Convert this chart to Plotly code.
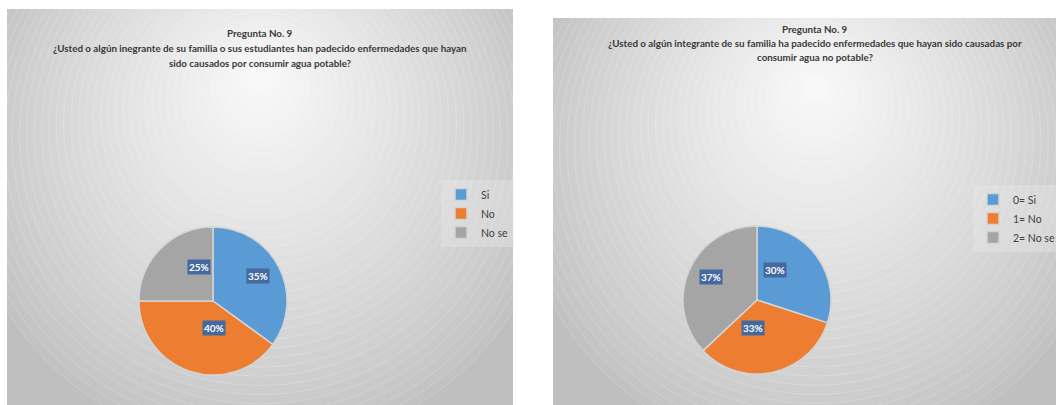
import math
import plotly.graph_objects as go

W, H = 1056, 405

# data
labels_left = ["Si", "No", "No se"]
values_left = [35, 40, 25]
labels_right = ["0= Si", "1= No", "2= No se"]
values_right = [30, 33, 37]

title_left = [
    "Pregunta No. 9",
    "¿Usted o algún inegrante de su familia o sus estudiantes han padecido enfermedades que hayan",
    "sido causados por consumir agua potable?",
]
title_right = [
    "Pregunta No. 9",
    "¿Usted o algún integrante de su familia ha padecido enfermedades que hayan sido causadas por",
    "consumir agua no potable?",
]

colors = ["#5b9bd5", "#ed7d31", "#a5a5a5"]
FONT = "Lato"

# panel geometry in pixels
panels = [
    dict(x0=7, x1=513, y0=9, cx=260, pie=(213, 301), title_y=[33, 48, 63],
         legend=(441, 180)),
    dict(x0=553, x1=1056, y0=18, cx=815, pie=(757, 300), title_y=[29, 43, 57],
         legend=(973, 185)),
]
PIE_D = 148


def px(x):
    return x / W


def py(y):
    return 1 - y / H


fig = go.Figure()
shapes = []
annotations = []

for i, p in enumerate(panels):
    sfx = "" if i == 0 else str(i + 1)
    fig.add_trace(go.Scatter(x=[], y=[], xaxis="x" + sfx, yaxis="y" + sfx,
                             showlegend=False, hoverinfo="skip"))
    fig.update_layout(**{
        "xaxis" + sfx: dict(domain=[px(p["x0"]), px(p["x1"])], range=[p["x0"], p["x1"]],
                            visible=False, fixedrange=True, anchor="y" + sfx),
        "yaxis" + sfx: dict(domain=[0, py(p["y0"])], range=[H, p["y0"]],
                            visible=False, fixedrange=True, anchor="x" + sfx),
    })
    # radial-ish background: stacked circles, clipped to the panel
    n = 40
    for k in range(n):
        t = k / (n - 1)
        r = 300 * (1 - t) + 12 * t
        cy = (p["y0"] + 141) * (1 - t) + (p["y0"] + 70) * t
        g = int(194 + (248 - 194) * t ** 0.85)
        shapes.append(dict(
            type="circle", xref="x" + sfx, yref="y" + sfx, layer="below",
            x0=p["cx"] - r, x1=p["cx"] + r, y0=cy - r, y1=cy + r,
            fillcolor=f"rgb({g},{g},{g})",
            line=dict(color="rgba(255,255,255,0.3)", width=0.6),
        ))
    for line, ty in zip(title_left if i == 0 else title_right, p["title_y"]):
        annotations.append(dict(
            text=line, x=px(p["cx"]), y=py(ty), xref="paper", yref="paper",
            showarrow=False, xanchor="center", yanchor="middle",
            font=dict(family=FONT, size=9.8, color="#3a3a3a", weight="bold"),
        ))

for i, (labels, values) in enumerate([(labels_left, values_left),
                                      (labels_right, values_right)]):
    p = panels[i]
    cx, cy = p["pie"]
    r = PIE_D / 2
    fig.add_trace(go.Pie(
        labels=labels, values=values, sort=False, direction="clockwise",
        rotation=0, textinfo="none", hoverinfo="label+percent",
        marker=dict(colors=colors, line=dict(color="#d4d4d4", width=1.5)),
        domain=dict(x=[px(cx - r), px(cx + r)], y=[py(cy + r), py(cy - r)]),
        legend="legend" if i == 0 else "legend2",
    ))
    total = sum(values)
    cum = 0
    for v in values:
        ang = math.radians((cum + v / 2) / total * 360)
        cum += v
        annotations.append(dict(
            text=f"{round(v / total * 100)}%",
            x=px(cx + 0.5 * r * math.sin(ang)), y=py(cy - 0.5 * r * math.cos(ang)),
            xref="paper", yref="paper", showarrow=False,
            font=dict(family=FONT, size=10, color="white", weight="bold"),
            bgcolor="#44699e", borderpad=1,
        ))

legend_style = dict(
    xanchor="left", yanchor="top", bgcolor="rgba(235,235,235,0.35)",
    font=dict(family=FONT, size=10.5, color="#404040"),
    itemwidth=30, itemclick=False, itemdoubleclick=False,
)

fig.update_layout(
    width=W, height=H, autosize=False,
    margin=dict(l=0, r=0, t=0, b=0, pad=0, autoexpand=False),
    paper_bgcolor="white",
    plot_bgcolor="#bfbfbf",
    shapes=shapes,
    annotations=annotations,
    legend=dict(x=px(panels[0]["legend"][0]), y=py(panels[0]["legend"][1]), **legend_style),
    legend2=dict(x=px(panels[1]["legend"][0]), y=py(panels[1]["legend"][1]), **legend_style),
)

# drop the browser's default body margin so the figure sits at the page corner
fig.write_html("out.html", config={"displayModeBar": False},
               post_script="document.body.style.margin='0';")
